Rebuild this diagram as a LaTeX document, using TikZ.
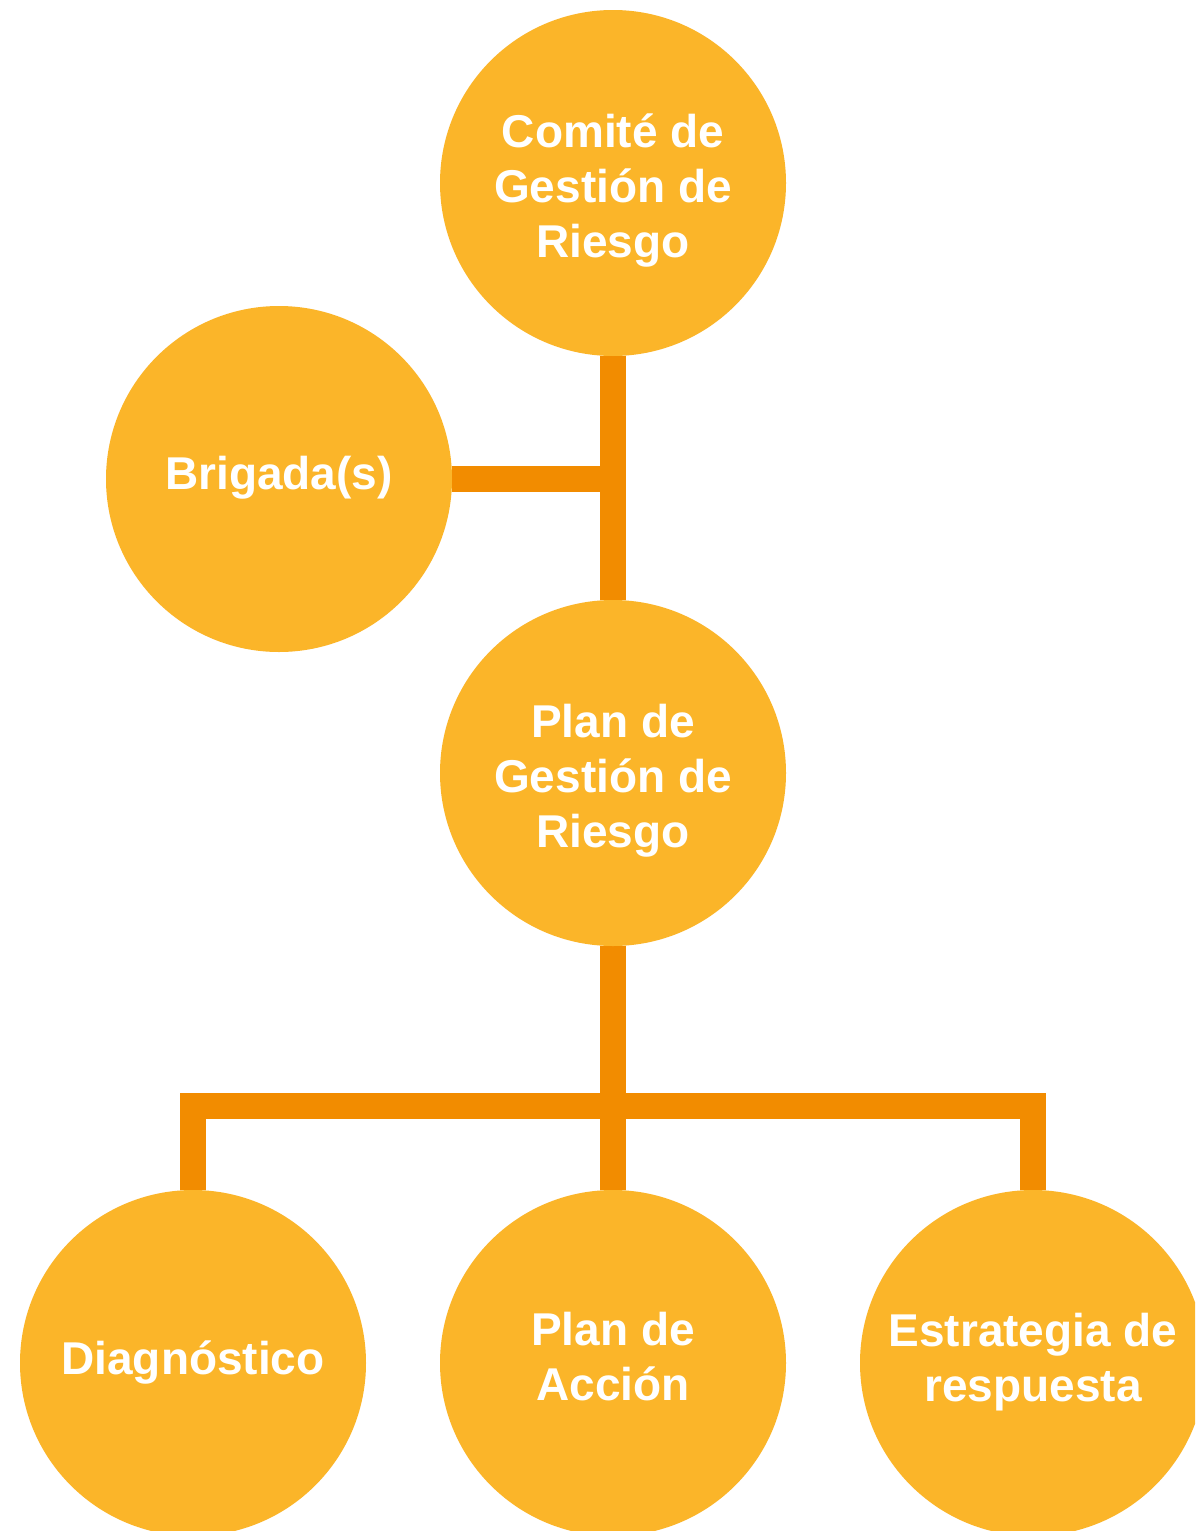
\documentclass[tikz,border=0pt]{standalone}
\usepackage{fontspec}
\setmainfont{Liberation Sans}
\definecolor{circfill}{HTML}{FBB529}
\definecolor{connclr}{HTML}{F28C00}
\begin{document}
\begin{tikzpicture}[x=1pt,y=-1pt,
  circ/.style={circle,fill=circfill,minimum size=346pt,inner sep=0pt},
  lbl/.style={text=white,align=center,inner sep=0pt,font=\fontsize{46}{55}\selectfont\bfseries},
  conn/.style={draw=connclr,line width=26pt,line join=miter}]
\useasboundingbox (0,0) rectangle (1195,1531);
\clip (0,0) rectangle (1195,1531);
\fill[white] (0,0) rectangle (1195,1531);
\coordinate (j) at (613,1105.5);
\draw[conn] (613,356) -- (613,600);
\draw[conn] (452,479) -- (613,479);
\draw[conn] (613,946) -- (j);
\draw[conn] (193,1190) -- (193,1105.5) -- (1033,1105.5) -- (1033,1190);
\draw[conn] (j) -- (613,1190);
\node[circ] (top) at (613,183) {};
\node[circ] (brig) at (279,479) {};
\node[circ] (plan) at (613,773) {};
\node[circ] (diag) at (193,1363) {};
\node[circ] (acc) at (613,1363) {};
\node[circ] (estr) at (1033,1363) {};
\node[lbl,yshift=-8pt] (topt) at (top.center) {Comité de\\Gestión de\\Riesgo};
\node[lbl,yshift=1pt] (brigt) at (brig.center) {Brigada(s)};
\node[lbl,yshift=-8pt] (plant) at (plan.center) {Plan de\\Gestión de\\Riesgo};
\node[lbl,yshift=1pt] (diagt) at (diag.center) {Diagnóstico};
\node[lbl,yshift=6pt] (acct) at (acc.center) {Plan de\\Acción};
\node[lbl,yshift=1pt] (estrt) at (estr.center) {Estrategia de\\respuesta};
\end{tikzpicture}
\end{document}
